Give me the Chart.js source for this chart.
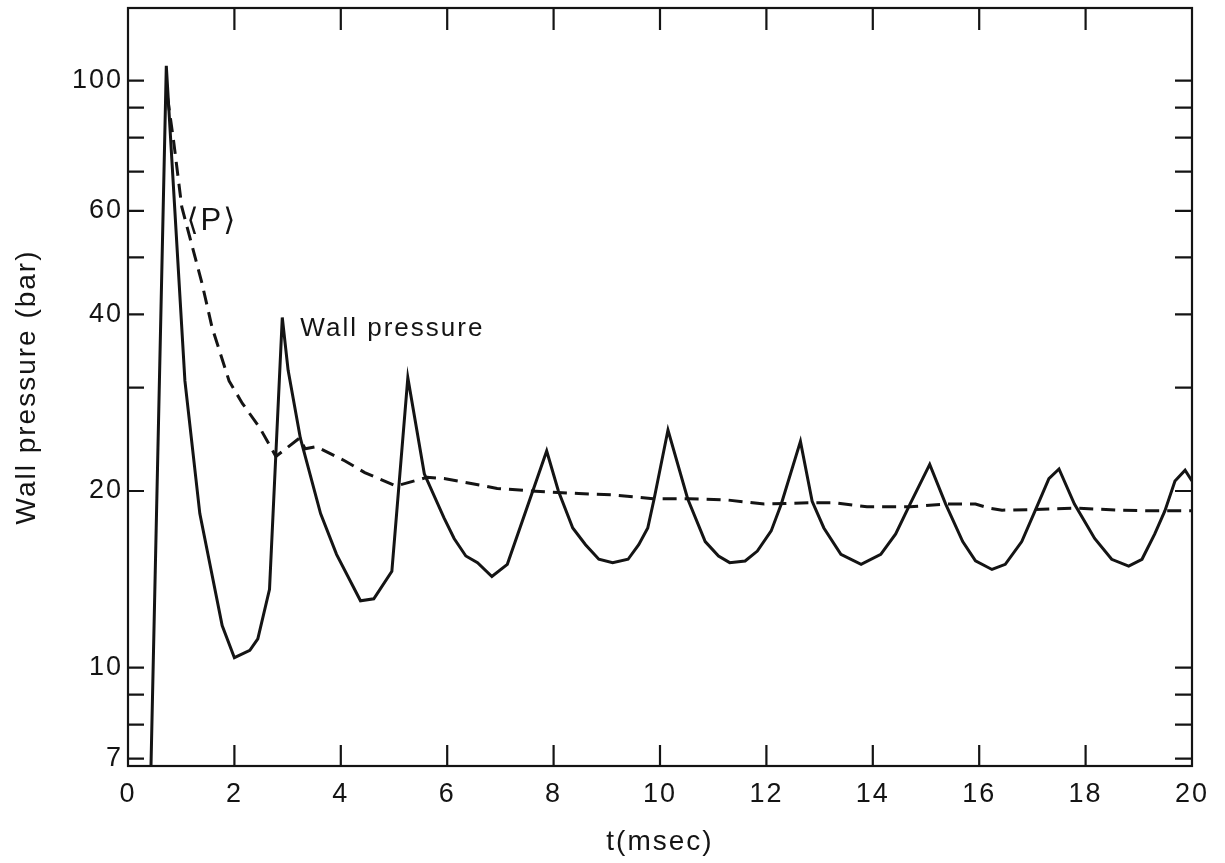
<!DOCTYPE html>
<html>
<head>
<meta charset="utf-8">
<script src="https://cdn.jsdelivr.net/npm/chart.js@4.4.1/dist/chart.umd.min.js"></script>
<style>
  html, body { margin: 0; padding: 0; background: #fff; }
  #wrap { width: 1225px; height: 863px; }
</style>
</head>
<body>
<div id="wrap"><canvas id="pressureChart"></canvas></div>
<script>
// wall pressure trace (t in msec, p in bar)
const wallT = [0.40, 0.72, 1.07, 1.35, 1.77, 2.00, 2.29, 2.44, 2.66, 2.90, 3.01, 3.24, 3.62, 3.92, 4.37, 4.62, 4.96,
  5.26, 5.57, 5.94, 6.13, 6.35, 6.57, 6.84, 7.13, 7.87, 8.09, 8.36, 8.60, 8.85, 9.11, 9.40, 9.60, 9.77, 9.89,
  10.15, 10.52, 10.85, 11.10, 11.31, 11.60, 11.83, 12.09, 12.28, 12.64, 12.86, 13.08, 13.40, 13.78, 14.15, 14.43,
  14.70, 15.07, 15.37, 15.69, 15.93, 16.24, 16.49, 16.80, 17.05, 17.31, 17.50, 17.79, 18.17, 18.49, 18.81, 19.06,
  19.30, 19.49, 19.68, 19.87, 20.00];
const wallP = [5.0, 106, 30.8, 18.3, 11.8, 10.4, 10.7, 11.2, 13.6, 39.5, 32.1, 24.6, 18.3, 15.6, 13.0, 13.1, 14.6,
  31.2, 21.4, 18.0, 16.6, 15.5, 15.1, 14.3, 15.0, 23.4, 20.0, 17.3, 16.2, 15.3, 15.1, 15.3, 16.2, 17.3, 19.4,
  25.4, 19.4, 16.4, 15.5, 15.1, 15.2, 15.8, 17.1, 19.0, 24.3, 19.2, 17.3, 15.6, 15.0, 15.6, 16.9,
  19.0, 22.2, 19.0, 16.4, 15.2, 14.7, 15.0, 16.4, 18.5, 21.0, 21.8, 19.0, 16.6, 15.3, 14.9, 15.3,
  16.9, 18.5, 20.8, 21.7, 20.8];

// mean pressure <P>
const meanT = [0.74, 0.86, 1.01, 1.39, 1.58, 1.90, 2.15, 2.48, 2.78, 3.22, 3.33, 3.54, 4.08, 4.45, 5.04, 5.62, 5.94,
  6.45, 6.94, 7.58, 8.47, 9.11, 9.87, 10.54, 11.28, 11.96, 12.84, 13.27, 13.89, 14.70, 15.37, 15.93, 16.19, 16.43,
  17.05, 17.79, 18.68, 19.30, 20.00];
const meanP = [94, 78.6, 61, 45.2, 38.0, 30.8, 28.2, 25.6, 22.9, 24.6, 23.6, 23.8, 22.5, 21.5, 20.4, 21.1, 21.0,
  20.6, 20.2, 20.0, 19.8, 19.7, 19.4, 19.4, 19.3, 19.0, 19.1, 19.1, 18.8, 18.8, 19.0, 19.0, 18.7, 18.55,
  18.6, 18.7, 18.55, 18.5, 18.5];

const xLabelTicks = [0, 2, 4, 6, 8, 10, 12, 14, 16, 18, 20];
const yLabelTicks = [7, 10, 20, 40, 60, 100];
const yMarkTicks = [7, 8, 9, 10, 20, 30, 40, 50, 60, 70, 80, 90, 100];

const ink = '#141414';
const face = '"Liberation Sans", "DejaVu Sans", sans-serif';

// frame box with inward tick marks, plus the two curve labels
const framePlugin = {
  id: 'frame',
  beforeDraw(chart) {
    chart.ctx.letterSpacing = '2px';
  },
  afterDraw(chart) {
    const { ctx, chartArea: a, scales } = chart;
    const xs = scales.x, ys = scales.y;
    ctx.save();
    ctx.strokeStyle = ink;
    ctx.lineWidth = 2.2;
    ctx.strokeRect(a.left, a.top, a.right - a.left, a.bottom - a.top);
    ctx.beginPath();
    xLabelTicks.slice(1, -1).forEach(v => {
      const px = xs.getPixelForValue(v);
      ctx.moveTo(px, a.bottom); ctx.lineTo(px, a.bottom - 21);
      ctx.moveTo(px, a.top); ctx.lineTo(px, a.top + 22);
    });
    yMarkTicks.forEach(v => {
      const py = ys.getPixelForValue(v);
      ctx.moveTo(a.left, py); ctx.lineTo(a.left + 16, py);
      ctx.moveTo(a.right, py); ctx.lineTo(a.right - 17, py);
    });
    ctx.stroke();

    ctx.fillStyle = ink;
    ctx.textBaseline = 'middle';
    ctx.textAlign = 'left';
    ctx.font = '31px ' + face;
    ctx.fillText('⟨P⟩', xs.getPixelForValue(1.10), ys.getPixelForValue(57.6));
    ctx.font = '26px ' + face;
    ctx.fillText('Wall pressure', xs.getPixelForValue(3.24), ys.getPixelForValue(37.8));
    ctx.restore();
    ctx.letterSpacing = '0px';
  }
};

const ctx = document.getElementById('pressureChart').getContext('2d');
const pressureChart = new Chart(ctx, {
  type: 'line',
  data: {
    datasets: [
      {
        label: 'Wall pressure',
        data: wallT.map((t, i) => ({ x: t, y: wallP[i] })),
        borderColor: ink,
        borderWidth: 3,
        pointRadius: 0,
        fill: false
      },
      {
        label: '⟨P⟩',
        data: meanT.map((t, i) => ({ x: t, y: meanP[i] })),
        borderColor: ink,
        borderWidth: 3,
        borderDash: [14, 8],
        pointRadius: 0,
        fill: false
      }
    ]
  },
  options: {
    responsive: true,
    maintainAspectRatio: false,
    animation: false,
    layout: { padding: { left: 0, top: 8, right: 33, bottom: 0 } },
    plugins: {
      legend: { display: false },
      tooltip: { enabled: false }
    },
    scales: {
      x: {
        type: 'linear',
        min: 0,
        max: 20,
        afterFit: s => { s.height = 97; s.paddingLeft = 0; s.paddingRight = 0; },
        afterBuildTicks: s => { s.ticks = xLabelTicks.map(v => ({ value: v })); },
        grid: { display: false, drawTicks: false },
        border: { display: false },
        ticks: {
          color: ink,
          padding: 12,
          maxRotation: 0,
          font: { family: face, size: 27 }
        },
        title: {
          display: true,
          text: 't(msec)',
          color: ink,
          padding: { top: 0, bottom: 4 },
          font: { family: face, size: 28 }
        }
      },
      y: {
        type: 'logarithmic',
        min: 6.8,
        max: 133,
        afterFit: s => { s.width = 128; s.paddingTop = 0; s.paddingBottom = 0; },
        afterBuildTicks: s => { s.ticks = yLabelTicks.map(v => ({ value: v })); },
        grid: { display: false, drawTicks: false },
        border: { display: false },
        ticks: {
          color: ink,
          padding: 5,
          callback: v => String(v),
          font: { family: face, size: 27 }
        },
        title: {
          display: true,
          text: 'Wall pressure (bar)',
          color: ink,
          padding: { top: 10, bottom: 0 },
          font: { family: face, size: 28 }
        }
      }
    }
  },
  plugins: [framePlugin]
});
</script>
</body>
</html>
